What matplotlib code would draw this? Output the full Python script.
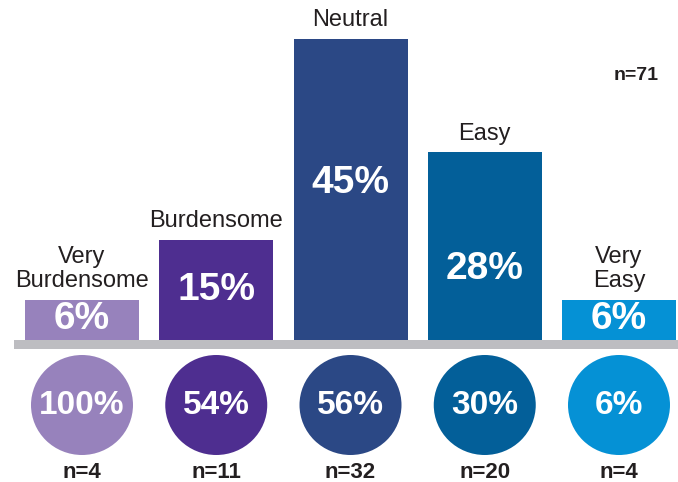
import matplotlib
matplotlib.use('Agg')
import matplotlib.pyplot as plt
from matplotlib.patches import Ellipse

plt.rcParams['font.family'] = ['Liberation Sans', 'DejaVu Sans']

categories = ['Very\nBurdensome', 'Burdensome', 'Neutral', 'Easy', 'Very\nEasy']
shares = [6, 15, 45, 28, 6]
circle_pcts = [100, 54, 56, 30, 6]
counts = [4, 11, 32, 20, 4]
total_n = 71

colors = ['#9782bc', '#4e2e90', '#2b4885', '#035f99', '#0591d5']
# where the share label sits inside each bar, as a fraction of its height
label_frac = [0.52, 0.5, 0.52, 0.38, 0.52]
text_dark = '#231f20'

# pixel scale: one category step and one percent point
px_x = 134.25
px_y = 6.7
x0 = -82 / px_x
y0 = -142 / px_y

fig = plt.figure(figsize=(6.78, 4.82), dpi=100)
ax = fig.add_axes([0, 0, 1, 1])
ax.set_xlim(x0, x0 + 678 / px_x)
ax.set_ylim(y0, y0 + 482 / px_y)
ax.axis('off')

xs = list(range(len(categories)))

# grey floor under the bars
ax.fill_between([x0 + 14 / px_x, x0 + 678 / px_x], -9 / px_y, 0,
                color='#bdbdc1', lw=0, zorder=1)

ax.bar(xs, shares, width=114 / px_x, color=colors, zorder=2)

for x, v, lab, fr in zip(xs, shares, categories, label_frac):
    ax.text(x, v * fr, '%d%%' % v, ha='center', va='center', color='white',
            fontsize=28, fontweight='bold', zorder=3)
    ax.text(x, v + 1.1, lab, ha='center', va='bottom', color=text_dark,
            fontsize=17, linespacing=1.15)

cy = -65 / px_y
for x, p, n, c in zip(xs, circle_pcts, counts, colors):
    ax.add_patch(Ellipse((x, cy), 102 / px_x, 100 / px_y, color=c, lw=0))
    ax.text(x, cy, '%d%%' % p, ha='center', va='center', color='white',
            fontsize=24, fontweight='bold')
    ax.text(x, -132 / px_y, 'n=%d' % n, ha='center', va='center',
            color=text_dark, fontsize=16, fontweight='bold')

ax.text(x0 + 636 / px_x, y0 + (482 - 76) / px_y, 'n=%d' % total_n,
        ha='center', va='center', color=text_dark, fontsize=14,
        fontweight='bold')

fig.savefig('out.png', dpi=100)
